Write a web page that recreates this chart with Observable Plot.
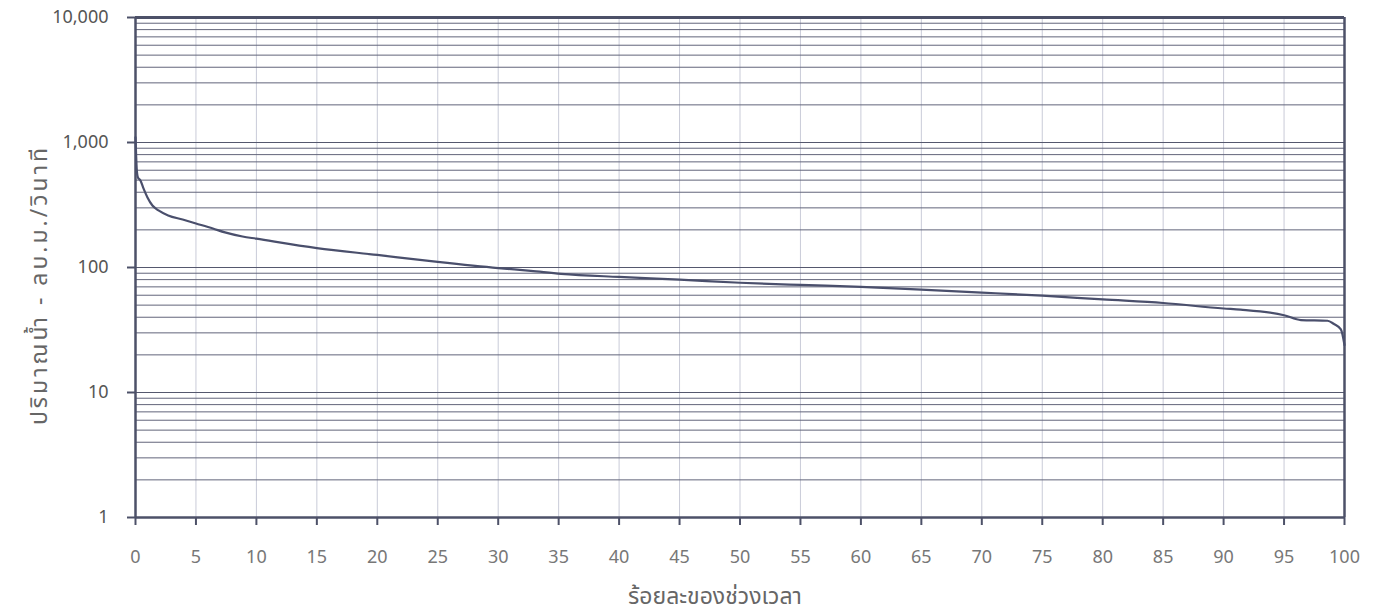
<!DOCTYPE html>
<html>
<head>
<meta charset="utf-8">
<script src="https://cdn.jsdelivr.net/npm/d3@7"></script>
<script src="https://cdn.jsdelivr.net/npm/@observablehq/plot@0.6"></script>
<style>
  html, body { margin: 0; padding: 0; background: #fff; }
  #chart { position: relative; width: 1377px; height: 613px; }
  svg { font-family: "Noto Sans Thai", "Loma", "Noto Sans", "DejaVu Sans", sans-serif; }
</style>
</head>
<body>
<div id="chart"></div>
<script>
// Flow duration curve values
const percentTime = [0, 0.05, 0.1, 0.2, 0.41, 0.66, 0.99, 1.4, 1.9, 2.7, 3.9, 5.0, 6.4, 7.4, 8.85, 10, 15, 20, 25, 30, 32.7, 35.2, 40, 45, 50, 55, 60, 65, 70, 75, 80, 85, 90, 91.4, 95, 96.4, 98.6, 99.1, 99.7, 100];
const flow = [1100, 800, 620, 525, 497, 429, 363, 313, 286, 261, 242, 225, 205, 191, 177, 170, 143, 126, 111, 99, 94, 89, 84, 80, 75.5, 72.5, 70, 66.5, 63, 59.5, 55.5, 52, 47, 46, 41.5, 38, 37.5, 35.5, 32, 24];

const xTicks = [0, 5, 10, 15, 20, 25, 30, 35, 40, 45, 50, 55, 60, 65, 70, 75, 80, 85, 90, 95, 100];
const yTicks = [1, 10, 100, 1000, 10000];
const yMinor = [2,3,4,5,6,7,8,9,20,30,40,50,60,70,80,90,200,300,400,500,600,700,800,900,2000,3000,4000,5000,6000,7000,8000,9000];

const xTitle = "ร้อยละของช่วงเวลา";
const yTitle = "ปริมาณน้ำ - ลบ.ม./วินาที";

const data = percentTime.map((p, i) => ({p, q: flow[i]}));

const frame = "#4d5168";

const chart = Plot.plot({
  width: 1377,
  height: 613,
  marginLeft: 135,
  marginRight: 33,
  marginTop: 17,
  marginBottom: 96,
  style: {fontSize: "18px", color: "#555", background: "#fff"},
  x: {domain: [0, 100], label: null},
  y: {type: "log", domain: [1, 10000], label: null},
  marks: [
    Plot.ruleX(xTicks.filter(d => d > 0 && d < 100), {stroke: "#c9cbd8", strokeWidth: 1}),
    Plot.ruleY(yMinor, {stroke: "#62657a", strokeWidth: 1}),
    Plot.ruleY([10, 100, 1000], {stroke: "#55586e", strokeWidth: 1.2}),
    Plot.ruleY([10000], {stroke: frame, strokeWidth: 3}),
    Plot.ruleY([1], {stroke: frame, strokeWidth: 2.5}),
    Plot.ruleX([0], {stroke: frame, strokeWidth: 2.5}),
    Plot.ruleX([100], {stroke: frame, strokeWidth: 2.5}),
    Plot.axisX({ticks: xTicks, tickSize: 8, tickPadding: 25, stroke: frame, strokeWidth: 2, fill: "#777", fontSize: 18, label: null}),
    Plot.axisY({ticks: yTicks, tickFormat: d3.format(","), tickSize: 8, tickPadding: 19, stroke: frame, strokeWidth: 2, fill: "#555", fontSize: 18, label: null}),
    Plot.line(data, {x: "p", y: "q", stroke: "#4a4f6c", strokeWidth: 2.2, curve: "monotone-x"})
  ]
});

const svg = d3.select(chart);
// axis titles as real text
svg.append("text")
  .attr("x", 715).attr("y", 604)
  .attr("text-anchor", "middle")
  .attr("font-size", 23).attr("fill", "#666")
  .text(xTitle);
svg.append("text")
  .attr("transform", "translate(47,285) rotate(-90)")
  .attr("text-anchor", "middle")
  .attr("font-size", 23).attr("fill", "#666")
  .attr("letter-spacing", "3px")
  .text(yTitle);

document.getElementById("chart").append(chart);
</script>
</body>
</html>
